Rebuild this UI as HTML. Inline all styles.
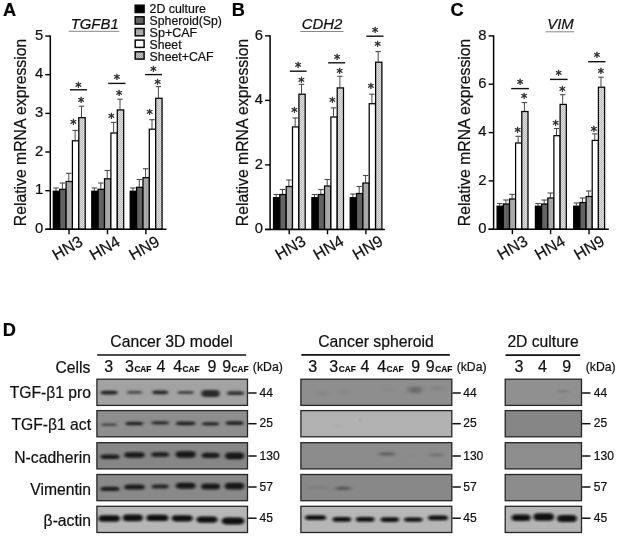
<!DOCTYPE html>
<html lang="en"><head><meta charset="utf-8"><title>Figure</title>
<style>html,body{margin:0;padding:0;background:#fff}body{width:618px;height:536px;overflow:hidden}svg{display:block;font-family:'Liberation Sans', sans-serif}text{stroke:#111;stroke-width:.22px}</style>
</head><body>
<svg width="618" height="536" viewBox="0 0 618 536">
<defs>
<pattern id="hatch" width="2" height="2" patternUnits="userSpaceOnUse"><rect width="2" height="2" fill="#e0e0e0"/><rect x="1" width="1" height="1" fill="#bcbcbc"/><rect y="1" width="1" height="1" fill="#bcbcbc"/></pattern>
<pattern id="hatch2" width="2" height="2" patternUnits="userSpaceOnUse"><rect width="2" height="2" fill="#c2c2c2"/><rect x="1" width="1" height="1" fill="#a2a2a2"/><rect y="1" width="1" height="1" fill="#a2a2a2"/></pattern>
<filter id="b1" x="-30%" y="-100%" width="160%" height="300%"><feGaussianBlur stdDeviation="1.4 0.9"/></filter>
<filter id="b2" x="-40%" y="-120%" width="180%" height="340%"><feGaussianBlur stdDeviation="2 1.3"/></filter>
<filter id="b3" x="-50%" y="-120%" width="200%" height="340%"><feGaussianBlur stdDeviation="2.6 1.7"/></filter>
</defs>
<rect width="618" height="536" fill="#fff"/>
<line x1="56.0" y1="188.0" x2="56.0" y2="190.7" stroke="#4a4a4a" stroke-width="1.0"/>
<line x1="53.3" y1="188.0" x2="58.7" y2="188.0" stroke="#4a4a4a" stroke-width="1.1"/>
<rect x="53.3" y="191.2" width="6.4" height="38.1" fill="#000" stroke="#000" stroke-width="1.25"/>
<line x1="62.4" y1="183.0" x2="62.4" y2="188.8" stroke="#4a4a4a" stroke-width="1.0"/>
<line x1="59.7" y1="183.0" x2="65.1" y2="183.0" stroke="#4a4a4a" stroke-width="1.1"/>
<rect x="59.7" y="189.3" width="6.4" height="40.0" fill="#636363" stroke="#000" stroke-width="1.25"/>
<line x1="68.8" y1="173.3" x2="68.8" y2="181.0" stroke="#4a4a4a" stroke-width="1.0"/>
<line x1="66.0" y1="173.3" x2="71.5" y2="173.3" stroke="#4a4a4a" stroke-width="1.1"/>
<rect x="66.1" y="181.5" width="6.4" height="47.8" fill="#a9a9a9" stroke="#000" stroke-width="1.25"/>
<line x1="75.1" y1="130.4" x2="75.1" y2="140.3" stroke="#4a4a4a" stroke-width="1.0"/>
<line x1="72.4" y1="130.4" x2="77.8" y2="130.4" stroke="#4a4a4a" stroke-width="1.1"/>
<rect x="72.4" y="140.8" width="6.4" height="88.5" fill="#fff" stroke="#000" stroke-width="1.25"/>
<line x1="81.5" y1="106.2" x2="81.5" y2="117.2" stroke="#4a4a4a" stroke-width="1.0"/>
<line x1="78.8" y1="106.2" x2="84.2" y2="106.2" stroke="#4a4a4a" stroke-width="1.1"/>
<rect x="78.8" y="117.7" width="6.4" height="111.6" fill="url(#hatch)" stroke="#000" stroke-width="1.25"/>
<line x1="69.9" y1="89.8" x2="87.1" y2="89.8" stroke="#111" stroke-width="1.4"/>
<text x="78.3" y="90.5" font-size="12.6" text-anchor="middle" fill="#2a2a2a" style="font-family:'DejaVu Sans',sans-serif;stroke:#2a2a2a;stroke-width:.45px">*</text>
<text x="81.2" y="106.2" font-size="12.6" text-anchor="middle" fill="#2a2a2a" style="font-family:'DejaVu Sans',sans-serif;stroke:#2a2a2a;stroke-width:.45px">*</text>
<text x="73.4" y="127.9" font-size="12.6" text-anchor="middle" fill="#2a2a2a" style="font-family:'DejaVu Sans',sans-serif;stroke:#2a2a2a;stroke-width:.45px">*</text>
<line x1="69.0" y1="229.3" x2="69.0" y2="234.2" stroke="#000" stroke-width="1.4"/>
<text x="56.2" y="260.7" font-size="16" fill="#111" transform="rotate(-30 56.2 260.7)" textLength="32" lengthAdjust="spacingAndGlyphs">HN3</text>
<line x1="94.4" y1="188.0" x2="94.4" y2="190.7" stroke="#4a4a4a" stroke-width="1.0"/>
<line x1="91.7" y1="188.0" x2="97.1" y2="188.0" stroke="#4a4a4a" stroke-width="1.1"/>
<rect x="91.8" y="191.2" width="6.4" height="38.1" fill="#000" stroke="#000" stroke-width="1.25"/>
<line x1="100.8" y1="183.0" x2="100.8" y2="188.8" stroke="#4a4a4a" stroke-width="1.0"/>
<line x1="98.1" y1="183.0" x2="103.5" y2="183.0" stroke="#4a4a4a" stroke-width="1.1"/>
<rect x="98.1" y="189.3" width="6.4" height="40.0" fill="#636363" stroke="#000" stroke-width="1.25"/>
<line x1="107.2" y1="170.5" x2="107.2" y2="178.3" stroke="#4a4a4a" stroke-width="1.0"/>
<line x1="104.5" y1="170.5" x2="109.9" y2="170.5" stroke="#4a4a4a" stroke-width="1.1"/>
<rect x="104.5" y="178.8" width="6.4" height="50.5" fill="#a9a9a9" stroke="#000" stroke-width="1.25"/>
<line x1="113.6" y1="122.4" x2="113.6" y2="132.5" stroke="#4a4a4a" stroke-width="1.0"/>
<line x1="110.9" y1="122.4" x2="116.3" y2="122.4" stroke="#4a4a4a" stroke-width="1.1"/>
<rect x="110.9" y="133.0" width="6.4" height="96.3" fill="#fff" stroke="#000" stroke-width="1.25"/>
<line x1="120.0" y1="99.2" x2="120.0" y2="109.4" stroke="#4a4a4a" stroke-width="1.0"/>
<line x1="117.3" y1="99.2" x2="122.7" y2="99.2" stroke="#4a4a4a" stroke-width="1.1"/>
<rect x="117.3" y="109.9" width="6.4" height="119.4" fill="url(#hatch)" stroke="#000" stroke-width="1.25"/>
<line x1="108.2" y1="83.4" x2="125.5" y2="83.4" stroke="#111" stroke-width="1.4"/>
<text x="117.0" y="82.5" font-size="12.6" text-anchor="middle" fill="#2a2a2a" style="font-family:'DejaVu Sans',sans-serif;stroke:#2a2a2a;stroke-width:.45px">*</text>
<text x="119.2" y="99.4" font-size="12.6" text-anchor="middle" fill="#2a2a2a" style="font-family:'DejaVu Sans',sans-serif;stroke:#2a2a2a;stroke-width:.45px">*</text>
<text x="111.4" y="121.5" font-size="12.6" text-anchor="middle" fill="#2a2a2a" style="font-family:'DejaVu Sans',sans-serif;stroke:#2a2a2a;stroke-width:.45px">*</text>
<line x1="107.5" y1="229.3" x2="107.5" y2="234.2" stroke="#000" stroke-width="1.4"/>
<text x="93.5" y="260.7" font-size="16" fill="#111" transform="rotate(-30 93.5 260.7)" textLength="32" lengthAdjust="spacingAndGlyphs">HN4</text>
<line x1="132.9" y1="188.0" x2="132.9" y2="190.7" stroke="#4a4a4a" stroke-width="1.0"/>
<line x1="130.2" y1="188.0" x2="135.6" y2="188.0" stroke="#4a4a4a" stroke-width="1.1"/>
<rect x="130.2" y="191.2" width="6.4" height="38.1" fill="#000" stroke="#000" stroke-width="1.25"/>
<line x1="139.3" y1="179.5" x2="139.3" y2="186.8" stroke="#4a4a4a" stroke-width="1.0"/>
<line x1="136.6" y1="179.5" x2="142.0" y2="179.5" stroke="#4a4a4a" stroke-width="1.1"/>
<rect x="136.6" y="187.3" width="6.4" height="42.0" fill="#636363" stroke="#000" stroke-width="1.25"/>
<line x1="145.6" y1="168.7" x2="145.6" y2="177.2" stroke="#4a4a4a" stroke-width="1.0"/>
<line x1="142.9" y1="168.7" x2="148.3" y2="168.7" stroke="#4a4a4a" stroke-width="1.1"/>
<rect x="143.0" y="177.7" width="6.4" height="51.6" fill="#a9a9a9" stroke="#000" stroke-width="1.25"/>
<line x1="152.0" y1="119.7" x2="152.0" y2="128.7" stroke="#4a4a4a" stroke-width="1.0"/>
<line x1="149.3" y1="119.7" x2="154.7" y2="119.7" stroke="#4a4a4a" stroke-width="1.1"/>
<rect x="149.3" y="129.2" width="6.4" height="100.1" fill="#fff" stroke="#000" stroke-width="1.25"/>
<line x1="158.4" y1="86.6" x2="158.4" y2="97.8" stroke="#4a4a4a" stroke-width="1.0"/>
<line x1="155.7" y1="86.6" x2="161.1" y2="86.6" stroke="#4a4a4a" stroke-width="1.1"/>
<rect x="155.7" y="98.3" width="6.4" height="131.0" fill="url(#hatch)" stroke="#000" stroke-width="1.25"/>
<line x1="145.1" y1="74.6" x2="162.0" y2="74.6" stroke="#111" stroke-width="1.4"/>
<text x="153.5" y="74.5" font-size="12.6" text-anchor="middle" fill="#2a2a2a" style="font-family:'DejaVu Sans',sans-serif;stroke:#2a2a2a;stroke-width:.45px">*</text>
<text x="157.7" y="87.8" font-size="12.6" text-anchor="middle" fill="#2a2a2a" style="font-family:'DejaVu Sans',sans-serif;stroke:#2a2a2a;stroke-width:.45px">*</text>
<text x="149.7" y="118.4" font-size="12.6" text-anchor="middle" fill="#2a2a2a" style="font-family:'DejaVu Sans',sans-serif;stroke:#2a2a2a;stroke-width:.45px">*</text>
<line x1="145.9" y1="229.3" x2="145.9" y2="234.2" stroke="#000" stroke-width="1.4"/>
<text x="133.0" y="260.7" font-size="16" fill="#111" transform="rotate(-30 133.0 260.7)" textLength="32" lengthAdjust="spacingAndGlyphs">HN9</text>
<line x1="50.3" y1="35.4" x2="50.3" y2="230.0" stroke="#000" stroke-width="1.5"/>
<line x1="45.3" y1="229.3" x2="166.5" y2="229.3" stroke="#000" stroke-width="1.5"/>
<line x1="45.3" y1="229.3" x2="50.3" y2="229.3" stroke="#000" stroke-width="1.4"/>
<text x="43.3" y="232.9" font-size="14.8" text-anchor="end" fill="#111">0</text>
<line x1="45.3" y1="190.7" x2="50.3" y2="190.7" stroke="#000" stroke-width="1.4"/>
<text x="43.3" y="194.2" font-size="14.8" text-anchor="end" fill="#111">1</text>
<line x1="45.3" y1="152.0" x2="50.3" y2="152.0" stroke="#000" stroke-width="1.4"/>
<text x="43.3" y="155.6" font-size="14.8" text-anchor="end" fill="#111">2</text>
<line x1="45.3" y1="113.4" x2="50.3" y2="113.4" stroke="#000" stroke-width="1.4"/>
<text x="43.3" y="117.0" font-size="14.8" text-anchor="end" fill="#111">3</text>
<line x1="45.3" y1="74.7" x2="50.3" y2="74.7" stroke="#000" stroke-width="1.4"/>
<text x="43.3" y="78.3" font-size="14.8" text-anchor="end" fill="#111">4</text>
<line x1="45.3" y1="36.1" x2="50.3" y2="36.1" stroke="#000" stroke-width="1.4"/>
<text x="43.3" y="39.7" font-size="14.8" text-anchor="end" fill="#111">5</text>
<text x="26.4" y="132.5" font-size="15.6" text-anchor="middle" fill="#111" transform="rotate(-90 26.4 132.5)" textLength="187.5" lengthAdjust="spacingAndGlyphs">Relative mRNA expression</text>
<text x="70.7" y="28.6" font-size="15" textLength="48.0" lengthAdjust="spacingAndGlyphs" font-style="italic" fill="#111">TGFB1</text>
<line x1="68.6" y1="31.3" x2="119.3" y2="31.3" stroke="#888" stroke-width="1"/>
<text x="2.9" y="16.4" font-size="18.2" font-weight="bold" fill="#000">A</text>
<line x1="276.2" y1="194.5" x2="276.2" y2="197.2" stroke="#4a4a4a" stroke-width="1.0"/>
<line x1="273.5" y1="194.5" x2="278.9" y2="194.5" stroke="#4a4a4a" stroke-width="1.1"/>
<rect x="273.5" y="197.7" width="6.3" height="31.7" fill="#000" stroke="#000" stroke-width="1.25"/>
<line x1="282.5" y1="189.5" x2="282.5" y2="194.0" stroke="#4a4a4a" stroke-width="1.0"/>
<line x1="279.8" y1="189.5" x2="285.2" y2="189.5" stroke="#4a4a4a" stroke-width="1.1"/>
<rect x="279.8" y="194.5" width="6.3" height="34.9" fill="#636363" stroke="#000" stroke-width="1.25"/>
<line x1="288.9" y1="180.0" x2="288.9" y2="186.0" stroke="#4a4a4a" stroke-width="1.0"/>
<line x1="286.2" y1="180.0" x2="291.6" y2="180.0" stroke="#4a4a4a" stroke-width="1.1"/>
<rect x="286.2" y="186.5" width="6.3" height="42.9" fill="#a9a9a9" stroke="#000" stroke-width="1.25"/>
<line x1="295.2" y1="118.0" x2="295.2" y2="126.4" stroke="#4a4a4a" stroke-width="1.0"/>
<line x1="292.5" y1="118.0" x2="297.9" y2="118.0" stroke="#4a4a4a" stroke-width="1.1"/>
<rect x="292.5" y="126.9" width="6.3" height="102.5" fill="#fff" stroke="#000" stroke-width="1.25"/>
<line x1="301.5" y1="84.3" x2="301.5" y2="93.7" stroke="#4a4a4a" stroke-width="1.0"/>
<line x1="298.8" y1="84.3" x2="304.2" y2="84.3" stroke="#4a4a4a" stroke-width="1.1"/>
<rect x="298.9" y="94.2" width="6.3" height="135.2" fill="url(#hatch)" stroke="#000" stroke-width="1.25"/>
<line x1="289.8" y1="71.2" x2="306.6" y2="71.2" stroke="#111" stroke-width="1.4"/>
<text x="298.2" y="71.4" font-size="12.6" text-anchor="middle" fill="#2a2a2a" style="font-family:'DejaVu Sans',sans-serif;stroke:#2a2a2a;stroke-width:.45px">*</text>
<text x="301.4" y="85.5" font-size="12.6" text-anchor="middle" fill="#2a2a2a" style="font-family:'DejaVu Sans',sans-serif;stroke:#2a2a2a;stroke-width:.45px">*</text>
<text x="294.4" y="116.0" font-size="12.6" text-anchor="middle" fill="#2a2a2a" style="font-family:'DejaVu Sans',sans-serif;stroke:#2a2a2a;stroke-width:.45px">*</text>
<line x1="289.2" y1="229.4" x2="289.2" y2="234.3" stroke="#000" stroke-width="1.4"/>
<text x="279.3" y="260.4" font-size="16" fill="#111" transform="rotate(-30 279.3 260.4)" textLength="32" lengthAdjust="spacingAndGlyphs">HN3</text>
<line x1="314.5" y1="194.5" x2="314.5" y2="197.2" stroke="#4a4a4a" stroke-width="1.0"/>
<line x1="311.8" y1="194.5" x2="317.2" y2="194.5" stroke="#4a4a4a" stroke-width="1.1"/>
<rect x="311.9" y="197.7" width="6.3" height="31.7" fill="#000" stroke="#000" stroke-width="1.25"/>
<line x1="320.9" y1="189.5" x2="320.9" y2="194.0" stroke="#4a4a4a" stroke-width="1.0"/>
<line x1="318.2" y1="189.5" x2="323.6" y2="189.5" stroke="#4a4a4a" stroke-width="1.1"/>
<rect x="318.2" y="194.5" width="6.3" height="34.9" fill="#636363" stroke="#000" stroke-width="1.25"/>
<line x1="327.2" y1="179.5" x2="327.2" y2="185.5" stroke="#4a4a4a" stroke-width="1.0"/>
<line x1="324.5" y1="179.5" x2="329.9" y2="179.5" stroke="#4a4a4a" stroke-width="1.1"/>
<rect x="324.5" y="186.0" width="6.3" height="43.4" fill="#a9a9a9" stroke="#000" stroke-width="1.25"/>
<line x1="333.5" y1="107.9" x2="333.5" y2="116.5" stroke="#4a4a4a" stroke-width="1.0"/>
<line x1="330.8" y1="107.9" x2="336.2" y2="107.9" stroke="#4a4a4a" stroke-width="1.1"/>
<rect x="330.9" y="117.0" width="6.3" height="112.4" fill="#fff" stroke="#000" stroke-width="1.25"/>
<line x1="339.9" y1="76.3" x2="339.9" y2="87.4" stroke="#4a4a4a" stroke-width="1.0"/>
<line x1="337.2" y1="76.3" x2="342.6" y2="76.3" stroke="#4a4a4a" stroke-width="1.1"/>
<rect x="337.2" y="87.9" width="6.3" height="141.5" fill="url(#hatch)" stroke="#000" stroke-width="1.25"/>
<line x1="328.1" y1="62.8" x2="345.2" y2="62.8" stroke="#111" stroke-width="1.4"/>
<text x="337.2" y="63.4" font-size="12.6" text-anchor="middle" fill="#2a2a2a" style="font-family:'DejaVu Sans',sans-serif;stroke:#2a2a2a;stroke-width:.45px">*</text>
<text x="339.7" y="77.1" font-size="12.6" text-anchor="middle" fill="#2a2a2a" style="font-family:'DejaVu Sans',sans-serif;stroke:#2a2a2a;stroke-width:.45px">*</text>
<text x="332.3" y="106.1" font-size="12.6" text-anchor="middle" fill="#2a2a2a" style="font-family:'DejaVu Sans',sans-serif;stroke:#2a2a2a;stroke-width:.45px">*</text>
<line x1="327.5" y1="229.4" x2="327.5" y2="234.3" stroke="#000" stroke-width="1.4"/>
<text x="317.3" y="260.4" font-size="16" fill="#111" transform="rotate(-30 317.3 260.4)" textLength="32" lengthAdjust="spacingAndGlyphs">HN4</text>
<line x1="352.9" y1="194.0" x2="352.9" y2="197.2" stroke="#4a4a4a" stroke-width="1.0"/>
<line x1="350.2" y1="194.0" x2="355.6" y2="194.0" stroke="#4a4a4a" stroke-width="1.1"/>
<rect x="350.2" y="197.7" width="6.3" height="31.7" fill="#000" stroke="#000" stroke-width="1.25"/>
<line x1="359.2" y1="186.5" x2="359.2" y2="193.0" stroke="#4a4a4a" stroke-width="1.0"/>
<line x1="356.5" y1="186.5" x2="361.9" y2="186.5" stroke="#4a4a4a" stroke-width="1.1"/>
<rect x="356.5" y="193.5" width="6.3" height="35.9" fill="#636363" stroke="#000" stroke-width="1.25"/>
<line x1="365.6" y1="175.5" x2="365.6" y2="182.5" stroke="#4a4a4a" stroke-width="1.0"/>
<line x1="362.9" y1="175.5" x2="368.2" y2="175.5" stroke="#4a4a4a" stroke-width="1.1"/>
<rect x="362.9" y="183.0" width="6.3" height="46.4" fill="#a9a9a9" stroke="#000" stroke-width="1.25"/>
<line x1="371.9" y1="94.2" x2="371.9" y2="103.2" stroke="#4a4a4a" stroke-width="1.0"/>
<line x1="369.2" y1="94.2" x2="374.6" y2="94.2" stroke="#4a4a4a" stroke-width="1.1"/>
<rect x="369.2" y="103.7" width="6.3" height="125.7" fill="#fff" stroke="#000" stroke-width="1.25"/>
<line x1="378.2" y1="51.6" x2="378.2" y2="61.7" stroke="#4a4a4a" stroke-width="1.0"/>
<line x1="375.5" y1="51.6" x2="380.9" y2="51.6" stroke="#4a4a4a" stroke-width="1.1"/>
<rect x="375.6" y="62.2" width="6.3" height="167.2" fill="url(#hatch)" stroke="#000" stroke-width="1.25"/>
<line x1="366.3" y1="36.2" x2="383.5" y2="36.2" stroke="#111" stroke-width="1.4"/>
<text x="375.1" y="36.0" font-size="12.6" text-anchor="middle" fill="#2a2a2a" style="font-family:'DejaVu Sans',sans-serif;stroke:#2a2a2a;stroke-width:.45px">*</text>
<text x="377.6" y="50.1" font-size="12.6" text-anchor="middle" fill="#2a2a2a" style="font-family:'DejaVu Sans',sans-serif;stroke:#2a2a2a;stroke-width:.45px">*</text>
<text x="370.9" y="91.8" font-size="12.6" text-anchor="middle" fill="#2a2a2a" style="font-family:'DejaVu Sans',sans-serif;stroke:#2a2a2a;stroke-width:.45px">*</text>
<line x1="365.9" y1="229.4" x2="365.9" y2="234.3" stroke="#000" stroke-width="1.4"/>
<text x="356.5" y="260.4" font-size="16" fill="#111" transform="rotate(-30 356.5 260.4)" textLength="32" lengthAdjust="spacingAndGlyphs">HN9</text>
<line x1="270.1" y1="35.2" x2="270.1" y2="230.1" stroke="#000" stroke-width="1.5"/>
<line x1="265.1" y1="229.4" x2="384.8" y2="229.4" stroke="#000" stroke-width="1.5"/>
<line x1="265.1" y1="229.4" x2="270.1" y2="229.4" stroke="#000" stroke-width="1.4"/>
<text x="263.1" y="233.0" font-size="14.8" text-anchor="end" fill="#111">0</text>
<line x1="265.1" y1="164.9" x2="270.1" y2="164.9" stroke="#000" stroke-width="1.4"/>
<text x="263.1" y="168.5" font-size="14.8" text-anchor="end" fill="#111">2</text>
<line x1="265.1" y1="100.4" x2="270.1" y2="100.4" stroke="#000" stroke-width="1.4"/>
<text x="263.1" y="104.0" font-size="14.8" text-anchor="end" fill="#111">4</text>
<line x1="265.1" y1="35.9" x2="270.1" y2="35.9" stroke="#000" stroke-width="1.4"/>
<text x="263.1" y="39.5" font-size="14.8" text-anchor="end" fill="#111">6</text>
<text x="247.8" y="132.5" font-size="15.6" text-anchor="middle" fill="#111" transform="rotate(-90 247.8 132.5)" textLength="187.5" lengthAdjust="spacingAndGlyphs">Relative mRNA expression</text>
<text x="301.8" y="28.6" font-size="15" textLength="40.6" lengthAdjust="spacingAndGlyphs" font-style="italic" fill="#111">CDH2</text>
<line x1="300.3" y1="31.5" x2="343.5" y2="31.5" stroke="#888" stroke-width="1"/>
<text x="231.7" y="16.4" font-size="18.2" font-weight="bold" fill="#000">B</text>
<line x1="499.7" y1="203.5" x2="499.7" y2="205.7" stroke="#4a4a4a" stroke-width="1.0"/>
<line x1="497.0" y1="203.5" x2="502.4" y2="203.5" stroke="#4a4a4a" stroke-width="1.1"/>
<rect x="497.1" y="206.2" width="6.2" height="23.1" fill="#000" stroke="#000" stroke-width="1.25"/>
<line x1="505.9" y1="200.0" x2="505.9" y2="203.5" stroke="#4a4a4a" stroke-width="1.0"/>
<line x1="503.2" y1="200.0" x2="508.6" y2="200.0" stroke="#4a4a4a" stroke-width="1.1"/>
<rect x="503.3" y="204.0" width="6.2" height="25.3" fill="#636363" stroke="#000" stroke-width="1.25"/>
<line x1="512.1" y1="194.4" x2="512.1" y2="198.5" stroke="#4a4a4a" stroke-width="1.0"/>
<line x1="509.4" y1="194.4" x2="514.8" y2="194.4" stroke="#4a4a4a" stroke-width="1.1"/>
<rect x="509.5" y="199.0" width="6.2" height="30.3" fill="#a9a9a9" stroke="#000" stroke-width="1.25"/>
<line x1="518.2" y1="136.3" x2="518.2" y2="142.5" stroke="#4a4a4a" stroke-width="1.0"/>
<line x1="515.5" y1="136.3" x2="520.9" y2="136.3" stroke="#4a4a4a" stroke-width="1.1"/>
<rect x="515.6" y="143.0" width="6.2" height="86.3" fill="#fff" stroke="#000" stroke-width="1.25"/>
<line x1="524.4" y1="102.6" x2="524.4" y2="111.0" stroke="#4a4a4a" stroke-width="1.0"/>
<line x1="521.7" y1="102.6" x2="527.1" y2="102.6" stroke="#4a4a4a" stroke-width="1.1"/>
<rect x="521.8" y="111.5" width="6.2" height="117.8" fill="url(#hatch)" stroke="#000" stroke-width="1.25"/>
<line x1="511.2" y1="88.6" x2="528.9" y2="88.6" stroke="#111" stroke-width="1.4"/>
<text x="520.2" y="88.0" font-size="12.6" text-anchor="middle" fill="#2a2a2a" style="font-family:'DejaVu Sans',sans-serif;stroke:#2a2a2a;stroke-width:.45px">*</text>
<text x="524.1" y="102.2" font-size="12.6" text-anchor="middle" fill="#2a2a2a" style="font-family:'DejaVu Sans',sans-serif;stroke:#2a2a2a;stroke-width:.45px">*</text>
<text x="517.7" y="135.9" font-size="12.6" text-anchor="middle" fill="#2a2a2a" style="font-family:'DejaVu Sans',sans-serif;stroke:#2a2a2a;stroke-width:.45px">*</text>
<line x1="512.4" y1="229.3" x2="512.4" y2="234.2" stroke="#000" stroke-width="1.4"/>
<text x="501.2" y="260.4" font-size="16" fill="#111" transform="rotate(-30 501.2 260.4)" textLength="32" lengthAdjust="spacingAndGlyphs">HN3</text>
<line x1="538.0" y1="203.5" x2="538.0" y2="205.7" stroke="#4a4a4a" stroke-width="1.0"/>
<line x1="535.3" y1="203.5" x2="540.7" y2="203.5" stroke="#4a4a4a" stroke-width="1.1"/>
<rect x="535.4" y="206.2" width="6.2" height="23.1" fill="#000" stroke="#000" stroke-width="1.25"/>
<line x1="544.2" y1="200.0" x2="544.2" y2="203.5" stroke="#4a4a4a" stroke-width="1.0"/>
<line x1="541.5" y1="200.0" x2="546.9" y2="200.0" stroke="#4a4a4a" stroke-width="1.1"/>
<rect x="541.6" y="204.0" width="6.2" height="25.3" fill="#636363" stroke="#000" stroke-width="1.25"/>
<line x1="550.4" y1="193.0" x2="550.4" y2="197.5" stroke="#4a4a4a" stroke-width="1.0"/>
<line x1="547.6" y1="193.0" x2="553.1" y2="193.0" stroke="#4a4a4a" stroke-width="1.1"/>
<rect x="547.8" y="198.0" width="6.2" height="31.3" fill="#a9a9a9" stroke="#000" stroke-width="1.25"/>
<line x1="556.5" y1="128.5" x2="556.5" y2="135.2" stroke="#4a4a4a" stroke-width="1.0"/>
<line x1="553.8" y1="128.5" x2="559.2" y2="128.5" stroke="#4a4a4a" stroke-width="1.1"/>
<rect x="553.9" y="135.7" width="6.2" height="93.6" fill="#fff" stroke="#000" stroke-width="1.25"/>
<line x1="562.7" y1="94.7" x2="562.7" y2="103.9" stroke="#4a4a4a" stroke-width="1.0"/>
<line x1="560.0" y1="94.7" x2="565.4" y2="94.7" stroke="#4a4a4a" stroke-width="1.1"/>
<rect x="560.1" y="104.4" width="6.2" height="124.9" fill="url(#hatch)" stroke="#000" stroke-width="1.25"/>
<line x1="550.0" y1="79.4" x2="567.6" y2="79.4" stroke="#111" stroke-width="1.4"/>
<text x="558.7" y="79.3" font-size="12.6" text-anchor="middle" fill="#2a2a2a" style="font-family:'DejaVu Sans',sans-serif;stroke:#2a2a2a;stroke-width:.45px">*</text>
<text x="562.4" y="95.1" font-size="12.6" text-anchor="middle" fill="#2a2a2a" style="font-family:'DejaVu Sans',sans-serif;stroke:#2a2a2a;stroke-width:.45px">*</text>
<text x="555.6" y="128.5" font-size="12.6" text-anchor="middle" fill="#2a2a2a" style="font-family:'DejaVu Sans',sans-serif;stroke:#2a2a2a;stroke-width:.45px">*</text>
<line x1="550.6" y1="229.3" x2="550.6" y2="234.2" stroke="#000" stroke-width="1.4"/>
<text x="538.7" y="260.4" font-size="16" fill="#111" transform="rotate(-30 538.7 260.4)" textLength="32" lengthAdjust="spacingAndGlyphs">HN4</text>
<line x1="576.3" y1="203.0" x2="576.3" y2="205.7" stroke="#4a4a4a" stroke-width="1.0"/>
<line x1="573.6" y1="203.0" x2="579.0" y2="203.0" stroke="#4a4a4a" stroke-width="1.1"/>
<rect x="573.7" y="206.2" width="6.2" height="23.1" fill="#000" stroke="#000" stroke-width="1.25"/>
<line x1="582.5" y1="198.0" x2="582.5" y2="202.0" stroke="#4a4a4a" stroke-width="1.0"/>
<line x1="579.8" y1="198.0" x2="585.2" y2="198.0" stroke="#4a4a4a" stroke-width="1.1"/>
<rect x="579.9" y="202.5" width="6.2" height="26.8" fill="#636363" stroke="#000" stroke-width="1.25"/>
<line x1="588.7" y1="191.0" x2="588.7" y2="196.0" stroke="#4a4a4a" stroke-width="1.0"/>
<line x1="586.0" y1="191.0" x2="591.4" y2="191.0" stroke="#4a4a4a" stroke-width="1.1"/>
<rect x="586.1" y="196.5" width="6.2" height="32.8" fill="#a9a9a9" stroke="#000" stroke-width="1.25"/>
<line x1="594.8" y1="133.9" x2="594.8" y2="139.9" stroke="#4a4a4a" stroke-width="1.0"/>
<line x1="592.1" y1="133.9" x2="597.5" y2="133.9" stroke="#4a4a4a" stroke-width="1.1"/>
<rect x="592.2" y="140.4" width="6.2" height="88.9" fill="#fff" stroke="#000" stroke-width="1.25"/>
<line x1="601.0" y1="77.2" x2="601.0" y2="86.7" stroke="#4a4a4a" stroke-width="1.0"/>
<line x1="598.3" y1="77.2" x2="603.7" y2="77.2" stroke="#4a4a4a" stroke-width="1.1"/>
<rect x="598.4" y="87.2" width="6.2" height="142.1" fill="url(#hatch)" stroke="#000" stroke-width="1.25"/>
<line x1="588.2" y1="61.7" x2="605.4" y2="61.7" stroke="#111" stroke-width="1.4"/>
<text x="596.9" y="61.3" font-size="12.6" text-anchor="middle" fill="#2a2a2a" style="font-family:'DejaVu Sans',sans-serif;stroke:#2a2a2a;stroke-width:.45px">*</text>
<text x="600.9" y="76.6" font-size="12.6" text-anchor="middle" fill="#2a2a2a" style="font-family:'DejaVu Sans',sans-serif;stroke:#2a2a2a;stroke-width:.45px">*</text>
<text x="593.8" y="134.5" font-size="12.6" text-anchor="middle" fill="#2a2a2a" style="font-family:'DejaVu Sans',sans-serif;stroke:#2a2a2a;stroke-width:.45px">*</text>
<line x1="589.0" y1="229.3" x2="589.0" y2="234.2" stroke="#000" stroke-width="1.4"/>
<text x="578.0" y="260.4" font-size="16" fill="#111" transform="rotate(-30 578.0 260.4)" textLength="32" lengthAdjust="spacingAndGlyphs">HN9</text>
<line x1="493.6" y1="35.2" x2="493.6" y2="230.0" stroke="#000" stroke-width="1.5"/>
<line x1="488.6" y1="229.3" x2="608.8" y2="229.3" stroke="#000" stroke-width="1.5"/>
<line x1="488.6" y1="229.3" x2="493.6" y2="229.3" stroke="#000" stroke-width="1.4"/>
<text x="486.6" y="232.9" font-size="14.8" text-anchor="end" fill="#111">0</text>
<line x1="488.6" y1="180.9" x2="493.6" y2="180.9" stroke="#000" stroke-width="1.4"/>
<text x="486.6" y="184.5" font-size="14.8" text-anchor="end" fill="#111">2</text>
<line x1="488.6" y1="132.6" x2="493.6" y2="132.6" stroke="#000" stroke-width="1.4"/>
<text x="486.6" y="136.2" font-size="14.8" text-anchor="end" fill="#111">4</text>
<line x1="488.6" y1="84.2" x2="493.6" y2="84.2" stroke="#000" stroke-width="1.4"/>
<text x="486.6" y="87.8" font-size="14.8" text-anchor="end" fill="#111">6</text>
<line x1="488.6" y1="35.9" x2="493.6" y2="35.9" stroke="#000" stroke-width="1.4"/>
<text x="486.6" y="39.5" font-size="14.8" text-anchor="end" fill="#111">8</text>
<text x="469.8" y="132.4" font-size="15.6" text-anchor="middle" fill="#111" transform="rotate(-90 469.8 132.4)" textLength="187.5" lengthAdjust="spacingAndGlyphs">Relative mRNA expression</text>
<text x="547.3" y="28.6" font-size="15" textLength="26.4" lengthAdjust="spacingAndGlyphs" font-style="italic" fill="#111">VIM</text>
<line x1="545.5" y1="31.8" x2="574.2" y2="31.8" stroke="#888" stroke-width="1"/>
<text x="450.6" y="16.3" font-size="18.2" font-weight="bold" fill="#000">C</text>
<rect x="135.2" y="5.2" width="8.9" height="7.3" fill="#000" stroke="#0a0a0a" stroke-width="1.5"/>
<text x="149.6" y="12.6" font-size="12.2" textLength="56.3" lengthAdjust="spacingAndGlyphs" fill="#111">2D culture</text>
<rect x="135.2" y="16.8" width="8.9" height="7.3" fill="#636363" stroke="#0a0a0a" stroke-width="1.5"/>
<text x="149.6" y="24.6" font-size="12.2" textLength="72.3" lengthAdjust="spacingAndGlyphs" fill="#111">Spheroid(Sp)</text>
<rect x="135.2" y="28.5" width="8.9" height="7.3" fill="#a9a9a9" stroke="#0a0a0a" stroke-width="1.5"/>
<text x="149.6" y="36.6" font-size="12.2" textLength="47.6" lengthAdjust="spacingAndGlyphs" fill="#111">Sp+CAF</text>
<rect x="135.2" y="40.1" width="8.9" height="7.3" fill="#fff" stroke="#0a0a0a" stroke-width="1.5"/>
<text x="149.6" y="48.6" font-size="12.2" textLength="32.0" lengthAdjust="spacingAndGlyphs" fill="#111">Sheet</text>
<rect x="135.2" y="51.8" width="8.9" height="7.3" fill="url(#hatch2)" stroke="#0a0a0a" stroke-width="1.5"/>
<text x="149.6" y="60.6" font-size="12.2" textLength="64.0" lengthAdjust="spacingAndGlyphs" fill="#111">Sheet+CAF</text>
<text x="2.8" y="336.4" font-size="18.2" font-weight="bold" fill="#000">D</text>
<clipPath id="cl0"><rect x="96.9" y="379.2" width="150.6" height="26.2"/></clipPath>
<rect x="96.9" y="379.2" width="150.6" height="26.2" fill="#a2a2a2"/>
<g clip-path="url(#cl0)">
<rect x="100.6" y="390.7" width="17" height="3.8" rx="3.7" ry="1.9" fill="#141414" opacity="0.93" filter="url(#b1)"/>
<rect x="126.7" y="390.8" width="15.5" height="3.2" rx="3.4" ry="1.6" fill="#141414" opacity="0.58" filter="url(#b1)"/>
<rect x="152.2" y="390.4" width="16" height="3.8" rx="3.5" ry="1.9" fill="#141414" opacity="0.88" filter="url(#b1)"/>
<rect x="177.4" y="390.9" width="16.5" height="3.2" rx="3.6" ry="1.6" fill="#141414" opacity="0.68" filter="url(#b1)"/>
<rect x="201.3" y="390.1" width="18.5" height="7" rx="4.1" ry="3.5" fill="#1c1c1c" opacity="0.9" filter="url(#b1)"/>
<rect x="227.0" y="391.3" width="17" height="3.8" rx="3.7" ry="1.9" fill="#141414" opacity="0.8" filter="url(#b1)"/>
</g>
<rect x="96.9" y="379.2" width="150.6" height="26.2" fill="none" stroke="#262626" stroke-width="1.3"/>
<clipPath id="cl1"><rect x="96.9" y="410.6" width="150.6" height="26.2"/></clipPath>
<rect x="96.9" y="410.6" width="150.6" height="26.2" fill="#8e8e8e"/>
<g clip-path="url(#cl1)">
<rect x="101.1" y="423.5" width="16" height="2.6" rx="3.5" ry="1.3" fill="#141414" opacity="0.6" filter="url(#b1)"/>
<rect x="125.4" y="421.7" width="18" height="3.6" rx="4.0" ry="1.8" fill="#141414" opacity="0.88" filter="url(#b1)"/>
<rect x="151.2" y="421.2" width="18" height="3.2" rx="4.0" ry="1.6" fill="#141414" opacity="0.8" filter="url(#b1)"/>
<rect x="175.9" y="421.4" width="19.5" height="3.8" rx="4.3" ry="1.9" fill="#141414" opacity="0.9" filter="url(#b1)"/>
<rect x="201.8" y="422.2" width="17.5" height="3.2" rx="3.9" ry="1.6" fill="#141414" opacity="0.86" filter="url(#b1)"/>
<rect x="225.6" y="421.2" width="18" height="3.8" rx="4.0" ry="1.9" fill="#141414" opacity="0.9" filter="url(#b1)"/>
</g>
<rect x="96.9" y="410.6" width="150.6" height="26.2" fill="none" stroke="#262626" stroke-width="1.3"/>
<clipPath id="cl2"><rect x="96.9" y="442.7" width="150.6" height="26.2"/></clipPath>
<rect x="96.9" y="442.7" width="150.6" height="26.2" fill="#868686"/>
<g clip-path="url(#cl2)">
<rect x="100.5" y="454.4" width="19" height="4.6" rx="4.2" ry="2.3" fill="#141414" opacity="0.96" filter="url(#b1)"/>
<rect x="124.2" y="452.2" width="20.5" height="5.6" rx="4.5" ry="2.8" fill="#141414" opacity="0.97" filter="url(#b1)"/>
<rect x="151.2" y="452.2" width="18" height="4.6" rx="4.0" ry="2.3" fill="#141414" opacity="0.95" filter="url(#b1)"/>
<rect x="175.7" y="451.3" width="20" height="6.4" rx="4.4" ry="3.2" fill="#141414" opacity="0.98" filter="url(#b1)"/>
<rect x="201.6" y="452.7" width="18" height="5.2" rx="4.0" ry="2.6" fill="#141414" opacity="0.96" filter="url(#b1)"/>
<rect x="225.1" y="452.6" width="19" height="6.6" rx="4.2" ry="3.3" fill="#141414" opacity="0.98" filter="url(#b1)"/>
</g>
<rect x="96.9" y="442.7" width="150.6" height="26.2" fill="none" stroke="#262626" stroke-width="1.3"/>
<clipPath id="cl3"><rect x="96.9" y="474.5" width="150.6" height="26.2"/></clipPath>
<rect x="96.9" y="474.5" width="150.6" height="26.2" fill="#898989"/>
<g clip-path="url(#cl3)">
<rect x="100.5" y="486.7" width="19" height="4.4" rx="4.2" ry="2.2" fill="#141414" opacity="0.94" filter="url(#b1)"/>
<rect x="124.2" y="484.4" width="20.5" height="5.2" rx="4.5" ry="2.6" fill="#141414" opacity="0.96" filter="url(#b1)"/>
<rect x="151.7" y="484.4" width="17" height="4" rx="3.7" ry="2.0" fill="#141414" opacity="0.9" filter="url(#b1)"/>
<rect x="175.7" y="482.8" width="20" height="6" rx="4.4" ry="3.0" fill="#141414" opacity="0.98" filter="url(#b1)"/>
<rect x="201.1" y="483.4" width="19" height="6" rx="4.2" ry="3.0" fill="#141414" opacity="0.98" filter="url(#b1)"/>
<rect x="224.8" y="482.7" width="19.5" height="6.8" rx="4.3" ry="3.4" fill="#141414" opacity="0.98" filter="url(#b1)"/>
</g>
<rect x="96.9" y="474.5" width="150.6" height="26.2" fill="none" stroke="#262626" stroke-width="1.3"/>
<clipPath id="cl4"><rect x="96.9" y="506.3" width="150.6" height="26.2"/></clipPath>
<rect x="96.9" y="506.3" width="150.6" height="26.2" fill="#b6b6b6"/>
<g clip-path="url(#cl4)">
<rect x="98.5" y="515.3" width="21.5" height="6.4" rx="4.7" ry="3.2" fill="#0a0a0a" opacity="0.98" filter="url(#b1)"/>
<rect x="122.8" y="514.6" width="20" height="6.6" rx="4.4" ry="3.3" fill="#0a0a0a" opacity="0.98" filter="url(#b1)"/>
<rect x="146.4" y="514.7" width="22" height="6.4" rx="4.8" ry="3.2" fill="#0a0a0a" opacity="0.98" filter="url(#b1)"/>
<rect x="171.7" y="515.2" width="21" height="6.2" rx="4.6" ry="3.1" fill="#0a0a0a" opacity="0.98" filter="url(#b1)"/>
<rect x="196.5" y="516.5" width="21" height="6.2" rx="4.6" ry="3.1" fill="#0a0a0a" opacity="0.98" filter="url(#b1)"/>
<rect x="221.5" y="517.5" width="23" height="7" rx="5.1" ry="3.5" fill="#0a0a0a" opacity="0.98" filter="url(#b1)"/>
</g>
<rect x="96.9" y="506.3" width="150.6" height="26.2" fill="none" stroke="#262626" stroke-width="1.3"/>
<clipPath id="cm0"><rect x="300.9" y="379.2" width="150.9" height="26.2"/></clipPath>
<rect x="300.9" y="379.2" width="150.9" height="26.2" fill="#8e8e8e"/>
<g clip-path="url(#cm0)">
<rect x="316.5" y="391.8" width="11" height="3.4" rx="2.4" ry="1.7" fill="#666" opacity="0.26" filter="url(#b3)"/>
<rect x="339.5" y="390.3" width="11" height="3.4" rx="2.4" ry="1.7" fill="#666" opacity="0.22" filter="url(#b3)"/>
<rect x="383.5" y="388.0" width="11" height="3" rx="2.4" ry="1.5" fill="#666" opacity="0.18" filter="url(#b3)"/>
<rect x="408.7" y="386.7" width="13" height="6.4" rx="2.9" ry="3.2" fill="#444" opacity="0.5" filter="url(#b3)"/>
<rect x="431.5" y="386.3" width="13" height="4.4" rx="2.9" ry="2.2" fill="#666" opacity="0.28" filter="url(#b3)"/>
</g>
<rect x="300.9" y="379.2" width="150.9" height="26.2" fill="none" stroke="#262626" stroke-width="1.3"/>
<clipPath id="cm1"><rect x="300.9" y="410.6" width="150.9" height="26.2"/></clipPath>
<rect x="300.9" y="410.6" width="150.9" height="26.2" fill="#b2b2b2"/>
<g clip-path="url(#cm1)">
<rect x="359.8" y="419.8" width="1.4" height="1.4" rx="0.3" ry="0.7" fill="#666" opacity="0.8" filter="url(#b1)"/>
<rect x="334.0" y="424.8" width="8" height="2.4" rx="1.8" ry="1.2" fill="#999" opacity="0.35" filter="url(#b2)"/>
</g>
<rect x="300.9" y="410.6" width="150.9" height="26.2" fill="none" stroke="#262626" stroke-width="1.3"/>
<clipPath id="cm2"><rect x="300.9" y="442.7" width="150.9" height="26.2"/></clipPath>
<rect x="300.9" y="442.7" width="150.9" height="26.2" fill="#8c8c8c"/>
<g clip-path="url(#cm2)">
<rect x="379.0" y="452.3" width="16" height="3.4" rx="3.5" ry="1.7" fill="#3a3a3a" opacity="0.5" filter="url(#b2)"/>
<rect x="429.7" y="453.6" width="14" height="2.8" rx="3.1" ry="1.4" fill="#444" opacity="0.36" filter="url(#b2)"/>
<rect x="407.0" y="455.7" width="8" height="1.6" rx="1.8" ry="0.8" fill="#666" opacity="0.25" filter="url(#b2)"/>
</g>
<rect x="300.9" y="442.7" width="150.9" height="26.2" fill="none" stroke="#262626" stroke-width="1.3"/>
<clipPath id="cm3"><rect x="300.9" y="474.5" width="150.9" height="26.2"/></clipPath>
<rect x="300.9" y="474.5" width="150.9" height="26.2" fill="#888"/>
<g clip-path="url(#cm3)">
<rect x="335.7" y="486.7" width="15" height="3.2" rx="3.3" ry="1.6" fill="#333" opacity="0.58" filter="url(#b2)"/>
<rect x="307.0" y="486.6" width="22" height="2" rx="4.8" ry="1.0" fill="#5a5a5a" opacity="0.3" filter="url(#b2)"/>
</g>
<rect x="300.9" y="474.5" width="150.9" height="26.2" fill="none" stroke="#262626" stroke-width="1.3"/>
<clipPath id="cm4"><rect x="300.9" y="506.3" width="150.9" height="26.2"/></clipPath>
<rect x="300.9" y="506.3" width="150.9" height="26.2" fill="#b6b6b6"/>
<g clip-path="url(#cm4)">
<rect x="305.1" y="515.3" width="21" height="4.8" rx="4.6" ry="2.4" fill="#0a0a0a" opacity="0.98" filter="url(#b1)"/>
<rect x="332.6" y="517.1" width="18.5" height="4.6" rx="4.1" ry="2.3" fill="#0a0a0a" opacity="0.98" filter="url(#b1)"/>
<rect x="355.9" y="517.0" width="18.5" height="4.8" rx="4.1" ry="2.4" fill="#0a0a0a" opacity="0.98" filter="url(#b1)"/>
<rect x="380.6" y="517.2" width="18.5" height="4.8" rx="4.1" ry="2.4" fill="#0a0a0a" opacity="0.98" filter="url(#b1)"/>
<rect x="404.1" y="517.4" width="18.5" height="4.4" rx="4.1" ry="2.2" fill="#0a0a0a" opacity="0.98" filter="url(#b1)"/>
<rect x="428.0" y="515.6" width="20" height="4.6" rx="4.4" ry="2.3" fill="#0a0a0a" opacity="0.98" filter="url(#b1)"/>
</g>
<rect x="300.9" y="506.3" width="150.9" height="26.2" fill="none" stroke="#262626" stroke-width="1.3"/>
<clipPath id="cr0"><rect x="505.2" y="379.2" width="76.3" height="26.2"/></clipPath>
<rect x="505.2" y="379.2" width="76.3" height="26.2" fill="#909090"/>
<g clip-path="url(#cr0)">
<rect x="559.0" y="390.3" width="9" height="2.4" rx="2.0" ry="1.2" fill="#555" opacity="0.42" filter="url(#b2)"/>
<rect x="559.0" y="398.0" width="6" height="2" rx="1.3" ry="1.0" fill="#6a6a6a" opacity="0.25" filter="url(#b2)"/>
</g>
<rect x="505.2" y="379.2" width="76.3" height="26.2" fill="none" stroke="#262626" stroke-width="1.3"/>
<clipPath id="cr1"><rect x="505.2" y="410.6" width="76.3" height="26.2"/></clipPath>
<rect x="505.2" y="410.6" width="76.3" height="26.2" fill="#868686"/>
<g clip-path="url(#cr1)">
</g>
<rect x="505.2" y="410.6" width="76.3" height="26.2" fill="none" stroke="#262626" stroke-width="1.3"/>
<clipPath id="cr2"><rect x="505.2" y="442.7" width="76.3" height="26.2"/></clipPath>
<rect x="505.2" y="442.7" width="76.3" height="26.2" fill="#8e8e8e"/>
<g clip-path="url(#cr2)">
</g>
<rect x="505.2" y="442.7" width="76.3" height="26.2" fill="none" stroke="#262626" stroke-width="1.3"/>
<clipPath id="cr3"><rect x="505.2" y="474.5" width="76.3" height="26.2"/></clipPath>
<rect x="505.2" y="474.5" width="76.3" height="26.2" fill="#8c8c8c"/>
<g clip-path="url(#cr3)">
</g>
<rect x="505.2" y="474.5" width="76.3" height="26.2" fill="none" stroke="#262626" stroke-width="1.3"/>
<clipPath id="cr4"><rect x="505.2" y="506.3" width="76.3" height="26.2"/></clipPath>
<rect x="505.2" y="506.3" width="76.3" height="26.2" fill="#b4b4b4"/>
<g clip-path="url(#cr4)">
<rect x="511.6" y="514.5" width="19" height="6.6" rx="4.2" ry="3.3" fill="#0a0a0a" opacity="0.98" filter="url(#b1)"/>
<rect x="533.5" y="513.3" width="20.5" height="7.4" rx="4.5" ry="3.7" fill="#0a0a0a" opacity="0.98" filter="url(#b1)"/>
<rect x="557.2" y="514.9" width="19.5" height="7" rx="4.3" ry="3.5" fill="#0a0a0a" opacity="0.98" filter="url(#b1)"/>
</g>
<rect x="505.2" y="506.3" width="76.3" height="26.2" fill="none" stroke="#262626" stroke-width="1.3"/>
<text x="171.5" y="346.9" font-size="15.7" text-anchor="middle" textLength="122.4" lengthAdjust="spacingAndGlyphs" fill="#111">Cancer 3D model</text>
<line x1="97.2" y1="355.0" x2="246.2" y2="355.0" stroke="#111" stroke-width="1.7"/>
<text x="376.0" y="346.9" font-size="15.7" text-anchor="middle" textLength="115.6" lengthAdjust="spacingAndGlyphs" fill="#111">Cancer spheroid</text>
<line x1="301.4" y1="354.9" x2="449.8" y2="354.9" stroke="#111" stroke-width="1.7"/>
<text x="543.1" y="346.9" font-size="15.7" text-anchor="middle" textLength="71.4" lengthAdjust="spacingAndGlyphs" fill="#111">2D culture</text>
<line x1="505.5" y1="355.2" x2="580.2" y2="355.2" stroke="#111" stroke-width="1.7"/>
<text x="91.0" y="397.9" font-size="15.7" text-anchor="end" fill="#111">TGF-β1 pro</text>
<text x="91.0" y="430.4" font-size="15.7" text-anchor="end" fill="#111">TGF-β1 act</text>
<text x="91.0" y="463.2" font-size="15.7" text-anchor="end" fill="#111">N-cadherin</text>
<text x="91.0" y="495.0" font-size="15.7" text-anchor="end" fill="#111">Vimentin</text>
<text x="91.0" y="526.3" font-size="15.7" text-anchor="end" fill="#111">β-actin</text>
<text x="90.3" y="373.1" font-size="15.7" text-anchor="end" fill="#111">Cells</text>
<text x="108.8" y="372.4" font-size="16" text-anchor="middle" fill="#111">3</text>
<text x="129.4" y="372.4" font-size="16" text-anchor="middle" fill="#111">3</text>
<text x="134.4" y="372.4" font-size="8.4" textLength="17.0" lengthAdjust="spacingAndGlyphs" font-weight="bold" fill="#111">CAF</text>
<text x="161.0" y="372.4" font-size="16" text-anchor="middle" fill="#111">4</text>
<text x="177.6" y="372.4" font-size="16" text-anchor="middle" fill="#111">4</text>
<text x="182.6" y="372.4" font-size="8.4" textLength="17.0" lengthAdjust="spacingAndGlyphs" font-weight="bold" fill="#111">CAF</text>
<text x="211.9" y="372.4" font-size="16" text-anchor="middle" fill="#111">9</text>
<text x="226.6" y="372.4" font-size="16" text-anchor="middle" fill="#111">9</text>
<text x="231.6" y="372.4" font-size="8.4" textLength="17.0" lengthAdjust="spacingAndGlyphs" font-weight="bold" fill="#111">CAF</text>
<text x="312.7" y="372.4" font-size="16" text-anchor="middle" fill="#111">3</text>
<text x="333.7" y="372.4" font-size="16" text-anchor="middle" fill="#111">3</text>
<text x="338.7" y="372.4" font-size="8.4" textLength="17.0" lengthAdjust="spacingAndGlyphs" font-weight="bold" fill="#111">CAF</text>
<text x="364.9" y="372.4" font-size="16" text-anchor="middle" fill="#111">4</text>
<text x="381.6" y="372.4" font-size="16" text-anchor="middle" fill="#111">4</text>
<text x="386.6" y="372.4" font-size="8.4" textLength="17.0" lengthAdjust="spacingAndGlyphs" font-weight="bold" fill="#111">CAF</text>
<text x="415.6" y="372.4" font-size="16" text-anchor="middle" fill="#111">9</text>
<text x="430.2" y="372.4" font-size="16" text-anchor="middle" fill="#111">9</text>
<text x="435.2" y="372.4" font-size="8.4" textLength="17.0" lengthAdjust="spacingAndGlyphs" font-weight="bold" fill="#111">CAF</text>
<text x="519.0" y="372.4" font-size="16" text-anchor="middle" fill="#111">3</text>
<text x="542.4" y="372.4" font-size="16" text-anchor="middle" fill="#111">4</text>
<text x="566.6" y="372.4" font-size="16" text-anchor="middle" fill="#111">9</text>
<text x="252.8" y="371.4" font-size="12.2" textLength="30.0" lengthAdjust="spacingAndGlyphs" fill="#111">(kDa)</text>
<text x="456.7" y="371.4" font-size="12.2" textLength="29.8" lengthAdjust="spacingAndGlyphs" fill="#111">(kDa)</text>
<text x="585.8" y="371.4" font-size="12.2" textLength="29.8" lengthAdjust="spacingAndGlyphs" fill="#111">(kDa)</text>
<line x1="248.2" y1="393.0" x2="256.6" y2="393.0" stroke="#111" stroke-width="1.5"/>
<text x="259.6" y="396.5" font-size="12" textLength="13.4" lengthAdjust="spacingAndGlyphs" fill="#111">44</text>
<line x1="248.2" y1="423.7" x2="256.6" y2="423.7" stroke="#111" stroke-width="1.5"/>
<text x="259.6" y="427.3" font-size="12" textLength="13.4" lengthAdjust="spacingAndGlyphs" fill="#111">25</text>
<line x1="248.2" y1="456.0" x2="256.6" y2="456.0" stroke="#111" stroke-width="1.5"/>
<text x="259.6" y="459.7" font-size="12" textLength="20.1" lengthAdjust="spacingAndGlyphs" fill="#111">130</text>
<line x1="248.2" y1="487.0" x2="256.6" y2="487.0" stroke="#111" stroke-width="1.5"/>
<text x="259.6" y="490.8" font-size="12" textLength="13.4" lengthAdjust="spacingAndGlyphs" fill="#111">57</text>
<line x1="248.2" y1="518.2" x2="256.6" y2="518.2" stroke="#111" stroke-width="1.5"/>
<text x="259.6" y="521.7" font-size="12" textLength="13.4" lengthAdjust="spacingAndGlyphs" fill="#111">45</text>
<line x1="452.4" y1="393.0" x2="460.8" y2="393.0" stroke="#111" stroke-width="1.5"/>
<text x="463.2" y="396.5" font-size="12" textLength="13.4" lengthAdjust="spacingAndGlyphs" fill="#111">44</text>
<line x1="452.4" y1="423.7" x2="460.8" y2="423.7" stroke="#111" stroke-width="1.5"/>
<text x="463.2" y="427.3" font-size="12" textLength="13.4" lengthAdjust="spacingAndGlyphs" fill="#111">25</text>
<line x1="452.4" y1="456.0" x2="460.8" y2="456.0" stroke="#111" stroke-width="1.5"/>
<text x="463.2" y="459.7" font-size="12" textLength="20.1" lengthAdjust="spacingAndGlyphs" fill="#111">130</text>
<line x1="452.4" y1="487.0" x2="460.8" y2="487.0" stroke="#111" stroke-width="1.5"/>
<text x="463.2" y="490.8" font-size="12" textLength="13.4" lengthAdjust="spacingAndGlyphs" fill="#111">57</text>
<line x1="452.4" y1="518.2" x2="460.8" y2="518.2" stroke="#111" stroke-width="1.5"/>
<text x="463.2" y="521.7" font-size="12" textLength="13.4" lengthAdjust="spacingAndGlyphs" fill="#111">45</text>
<line x1="582.1" y1="393.0" x2="590.5" y2="393.0" stroke="#111" stroke-width="1.5"/>
<text x="593.8" y="396.5" font-size="12" textLength="13.4" lengthAdjust="spacingAndGlyphs" fill="#111">44</text>
<line x1="582.1" y1="423.7" x2="590.5" y2="423.7" stroke="#111" stroke-width="1.5"/>
<text x="593.8" y="427.3" font-size="12" textLength="13.4" lengthAdjust="spacingAndGlyphs" fill="#111">25</text>
<line x1="582.1" y1="456.0" x2="590.5" y2="456.0" stroke="#111" stroke-width="1.5"/>
<text x="593.8" y="459.7" font-size="12" textLength="20.1" lengthAdjust="spacingAndGlyphs" fill="#111">130</text>
<line x1="582.1" y1="487.0" x2="590.5" y2="487.0" stroke="#111" stroke-width="1.5"/>
<text x="593.8" y="490.8" font-size="12" textLength="13.4" lengthAdjust="spacingAndGlyphs" fill="#111">57</text>
<line x1="582.1" y1="518.2" x2="590.5" y2="518.2" stroke="#111" stroke-width="1.5"/>
<text x="593.8" y="521.7" font-size="12" textLength="13.4" lengthAdjust="spacingAndGlyphs" fill="#111">45</text>
</svg></body></html>
